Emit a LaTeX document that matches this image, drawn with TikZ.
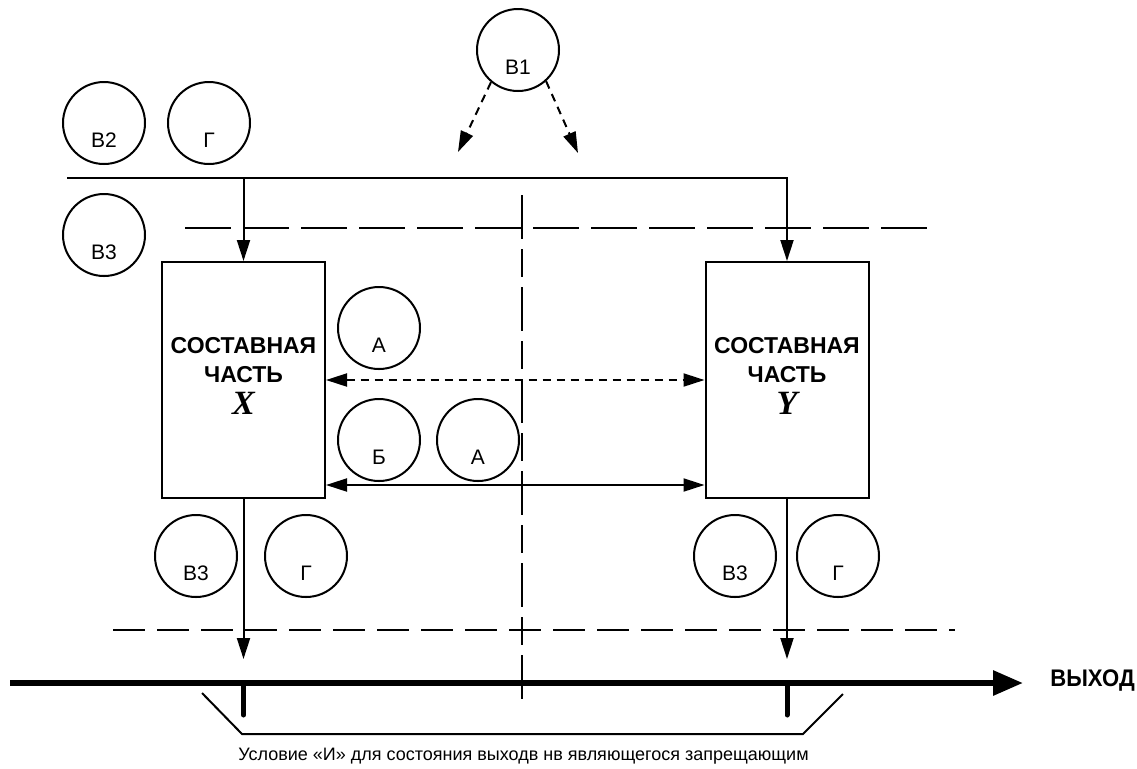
\documentclass[tikz,border=0pt]{standalone}
\usepackage{fontspec}
\setmainfont{Liberation Sans}
\newfontfamily\serifbi{Liberation Serif}
\usetikzlibrary{arrows.meta,calc}
\begin{document}
\begin{tikzpicture}[x=0.5pt,y=-0.5pt,
  thin/.style={line width=1pt},
  arr/.style={thin,-{Triangle[length=10.5pt,width=6.5pt]}},
  darr/.style={thin,{Triangle[length=10.5pt,width=6.5pt]}-{Triangle[length=10.5pt,width=6.5pt]}},
  dashline/.style={thin,dash pattern=on 4pt off 3pt},
  circ/.style={circle,draw,thin,minimum size=41pt,inner sep=0pt},
  clabel/.style={font=\fontsize{10.5pt}{12pt}\selectfont,yshift=-8.5pt},
  part/.style={draw,thin,minimum width=81.5pt,minimum height=118pt,inner sep=0pt},
  parttitle/.style={align=center,inner sep=0pt,yshift=9.75pt,
    font=\bfseries\fontsize{11.5pt}{14.5pt}\selectfont},
  partname/.style={inner sep=0pt,yshift=-11.5pt,
    font=\serifbi\bfseries\itshape\fontsize{17pt}{17pt}\selectfont},
  tick/.style={line width=2.5pt}
]
\useasboundingbox (0,0) rectangle (1137,768);

% components
\node[part,label={[parttitle]center:СОСТАВНАЯ\\ЧАСТЬ},label={[partname]center:X}] (X) at (243.5,380) {};
\node[part,label={[parttitle]center:СОСТАВНАЯ\\ЧАСТЬ},label={[partname]center:Y}] (Y) at (787,380) {};

% condition circles
\node[circ,label={[clabel]center:В1}] (b1) at (518,50) {};
\node[circ,label={[clabel]center:В2}] (b2) at (104,123) {};
\node[circ,label={[clabel]center:Г}] (g1) at (209,123) {};
\node[circ,label={[clabel]center:В3}] (b3) at (104,235) {};
\node[circ,label={[clabel]center:А}] (a1) at (379,328) {};
\node[circ,label={[clabel]center:Б}] (bb) at (379,440) {};
\node[circ,label={[clabel]center:А}] (a2) at (478,440) {};
\node[circ,label={[clabel]center:В3}] (b3x) at (196,556) {};
\node[circ,label={[clabel]center:Г}] (gx) at (306,556) {};
\node[circ,label={[clabel]center:В3}] (b3y) at (735,556) {};
\node[circ,label={[clabel]center:Г}] (gy) at (838,556) {};

% influence of В1
\coordinate (e1) at (458,152);
\coordinate (e2) at (578,153);
\draw[arr,dashline] (b1.-130) -- (e1);
\draw[arr,dashline] (b1.-48) -- (e2);

% input line
\coordinate (inL) at (67,178);
\coordinate (inX) at (243.5,178);
\draw[arr] (inL) -| (Y.north);
\draw[arr] (inX) -- (X.north);

% boundary lines
\coordinate (t1) at (185,228);
\coordinate (t2) at (935,228);
\draw[thin,dash pattern=on 23pt off 6pt] (t1) -- (t2);
\coordinate (d1) at (113,630);
\coordinate (d2) at (955,630);
\draw[thin,dash pattern=on 16pt off 6pt] (d1) -- (d2);
\coordinate (v1) at (522,195);
\coordinate (v2) at (522,700);
\draw[thin,dash pattern=on 22pt off 5pt on 14pt off 5pt] (v1) -- (v2);

% links between the components
\draw[darr,dash pattern=on 4pt off 3pt] (X.east) -- (Y.west);
\draw[darr] ($(X.south east)+(0,-14)$) -- ($(Y.south west)+(0,-14)$);

% outputs
\coordinate (oX) at (243.5,659);
\coordinate (oY) at (787,659);
\draw[arr] (X.south) -- (oX);
\draw[arr] (Y.south) -- (oY);

% output bus
\coordinate (m1) at (10,683);
\coordinate (m2) at (1023,683);
\draw[line width=3pt,-{Triangle[length=15pt,width=12pt]}] (m1) -- (m2);
\node[font=\bfseries\fontsize{12pt}{14pt}\selectfont,anchor=west,inner sep=0pt] (out) at (1050,680) {\scalebox{0.92}[1]{ВЫХОД}};

% ticks and AND bracket
\coordinate (kX1) at (243.5,683);
\coordinate (kX2) at (243.5,715);
\coordinate (kY1) at (787,683);
\coordinate (kY2) at (787,715);
\draw[tick,line cap=round] (kX1) -- (kX2);
\draw[tick,line cap=round] (kY1) -- (kY2);
\coordinate (br1) at (202,693);
\coordinate (br2) at (242,734);
\coordinate (br3) at (803,734);
\coordinate (br4) at (843,694);
\draw[thin] (br1) -- (br2) -- (br3) -- (br4);
\node[font=\fontsize{9pt}{10pt}\selectfont] (cond) at (523.5,756) {Условие «И» для состояния выходв нв являющегося запрещающим};
\end{tikzpicture}
\end{document}
